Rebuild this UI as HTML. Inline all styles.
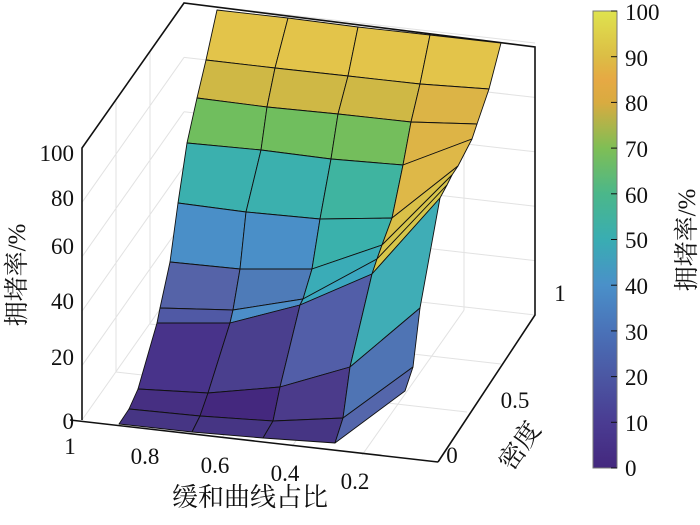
<!DOCTYPE html>
<html><head><meta charset="utf-8"><style>
html,body{margin:0;padding:0;background:#fff;width:700px;height:525px;overflow:hidden}
svg{display:block}
text{font-family:"Liberation Serif","Noto Serif CJK SC",serif;fill:#111}
</style></head><body>
<svg id="s" width="700" height="525" viewBox="0 0 700 525" xmlns="http://www.w3.org/2000/svg">
<defs>
<linearGradient id="cb" x1="0" y1="1" x2="0" y2="0">
<stop offset="0" stop-color="#44287e"/>
<stop offset="0.1" stop-color="#4a3c92"/>
<stop offset="0.2" stop-color="#4b57a3"/>
<stop offset="0.3" stop-color="#4a72b8"/>
<stop offset="0.4" stop-color="#4a90c9"/>
<stop offset="0.5" stop-color="#39adb2"/>
<stop offset="0.6" stop-color="#4bb78a"/>
<stop offset="0.7" stop-color="#7fbe55"/>
<stop offset="0.8" stop-color="#d9ab40"/>
<stop offset="0.85" stop-color="#e6a944"/>
<stop offset="0.9" stop-color="#dcbd45"/>
<stop offset="1" stop-color="#dfe34e"/>
</linearGradient>
</defs>
<g id="grid" stroke="#e2e2e2" stroke-width="1" fill="none"></g>
<g stroke="#111" stroke-width="1.6" fill="none">
<polyline points="82,420 82,148 184,3 535,47 535,315 438,462"/>
<line x1="70" y1="420" x2="438" y2="462"/>
</g>
<g id="surf" stroke="#111" stroke-width="0.9" stroke-linejoin="round"></g>
<g font-size="23">
<text x="74" y="429" text-anchor="end">0</text>
<text x="74" y="365" text-anchor="end">20</text>
<text x="74" y="309" text-anchor="end">40</text>
<text x="74" y="254" text-anchor="end">60</text>
<text x="74" y="206" text-anchor="end">80</text>
<text x="74" y="161" text-anchor="end">100</text>
<text x="70" y="454" text-anchor="middle">1</text>
<text x="145" y="464" text-anchor="middle">0.8</text>
<text x="215" y="473" text-anchor="middle">0.6</text>
<text x="285" y="481" text-anchor="middle">0.4</text>
<text x="355" y="489" text-anchor="middle">0.2</text>
<text x="452" y="463" text-anchor="middle">0</text>
<text x="515" y="408" text-anchor="middle">0.5</text>
<text x="560" y="301" text-anchor="middle">1</text>
</g>
<text x="250" y="506" font-size="26" text-anchor="middle">缓和曲线占比</text>
<text transform="translate(512,472) rotate(-55)" font-size="26">密度</text>
<text transform="translate(25,275) rotate(-90)" font-size="25" text-anchor="middle">拥堵率/%</text>
<rect x="593" y="11" width="24" height="457" fill="url(#cb)" stroke="#777" stroke-width="1"/>
<g id="cbt" stroke="#111" stroke-width="1"></g>
<g font-size="23">
<text x="625" y="20">100</text><text x="625" y="66">90</text><text x="625" y="111">80</text>
<text x="625" y="157">70</text><text x="625" y="203">60</text><text x="625" y="248">50</text>
<text x="625" y="294">40</text><text x="625" y="340">30</text><text x="625" y="385">20</text>
<text x="625" y="431">10</text><text x="625" y="476">0</text>
</g>
<text transform="translate(695,240) rotate(-90)" font-size="25" text-anchor="middle">拥堵率/%</text>
</svg>
<script>
var R=[
[[217,10],[288,18],[358,27],[430,35],[501,43]],
[[206,60],[275,68],[348,76],[420,84],[489,89]],
[[197,98],[267,107],[338,114],[411,122],[477,124]],
[[187,143],[261,150],[331,159],[403,165],[472,139]],
[[178,203],[246,212],[320,219],[392,218],[458,166]],
[[170,262],[240,269],[312,269],[382,245],[452,175]],
[[160,308],[233,310],[303,299],[377,259],[447,185]],
[[157,323],[230,323],[300,305],[372,274],[440,198]],
[[138,389],[208,393],[280,387],[350,367],[420,308]],
[[129,409],[200,416],[273,421],[343,418],[413,367]],
[[119,424],[192,432],[263,438],[335,443],[405,391]]];
var C=[
["#e3c44a","#e3c44a","#e3c44a","#e3c44a"],
["#cfb845","#cfb845","#cfb845","#dcb446"],
["#70be5e","#70be5e","#74be5c","#ddb446"],
["#3bb0ae","#3bb0ae","#3fb4a0","#deb848"],
["#4a8fc8","#4a8fc8","#3ab1ac","#d9c048"],
["#5563a8","#4e7bb8","#3aacb7","#d6c44a"],
["#5059a5","#4c8ec8","#3ba7c0","#d6c64a"],
["#48338a","#4a3f8e","#525ea8","#3fadb6"],
["#462f82","#44287e","#4b3b8b","#4f74b4"],
["#463584","#463584","#463584","#5466ab"]];
var ns="http://www.w3.org/2000/svg",g=document.getElementById("surf");
for(var i=0;i<10;i++)for(var j=0;j<4;j++){
var p=[R[i][j],R[i][j+1],R[i+1][j+1],R[i+1][j]];
var e=document.createElementNS(ns,"polygon");
e.setAttribute("points",p.map(function(q){return q.join(",")}).join(" "));
e.setAttribute("fill",C[i][j]);g.appendChild(e);}
var gr=document.getElementById("grid");
function L(a,b,c,d){var e=document.createElementNS(ns,"line");e.setAttribute("x1",a);e.setAttribute("y1",b);e.setAttribute("x2",c);e.setAttribute("y2",d);gr.appendChild(e);}
var zs=[0,20,40,60,80,100];
zs.forEach(function(z){var dy=(420-148)*z/100;L(82,420-dy,184,275-dy);L(184,275-dy,535,315-dy);});
for(var k=1;k<5;k++){var x=184+k*70,y=3+k*8.8;L(x,y,x,y+272);L(x,y+272,x-102,y+272+145);}
for(var k=1;k<3;k++){var x=82+k*34,y=420-k*48;L(x,y,x,y-272);L(x,y,x+351,y+40);}
var cb=document.getElementById("cbt");
for(var k=0;k<=10;k++){var y=468-k*45.7;var e=document.createElementNS(ns,"line");e.setAttribute("x1",611);e.setAttribute("x2",617);e.setAttribute("y1",y);e.setAttribute("y2",y);cb.appendChild(e);}
</script>
</body></html>
